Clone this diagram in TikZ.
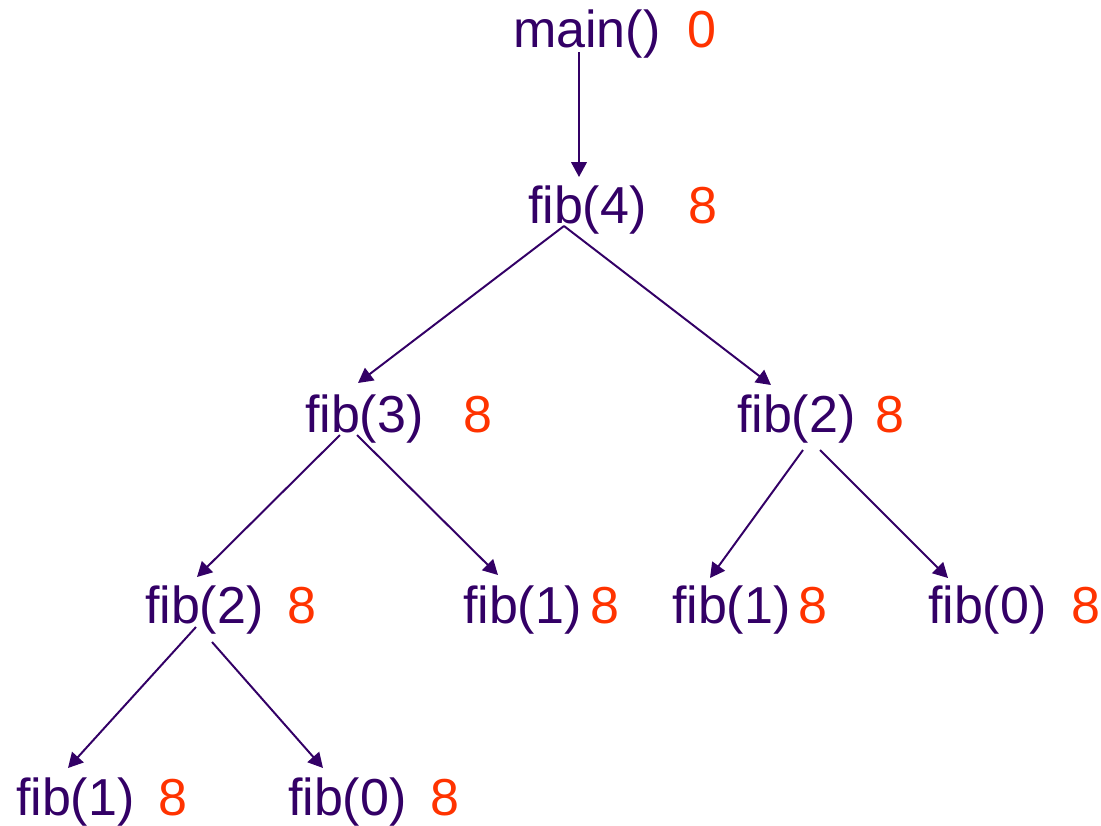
\documentclass[tikz,border=0pt]{standalone}
\usepackage{fontspec}
\setmainfont{Liberation Sans}
\usepackage{tikz}
\usetikzlibrary{arrows.meta}
\definecolor{CallPurple}{RGB}{51,0,102}
\definecolor{ValRed}{RGB}{255,51,0}

\begin{document}
\begin{tikzpicture}[x=0.025cm, y=-0.025cm,
    call/.style={font=\fontsize{37}{44}\selectfont, text=CallPurple, anchor=base west, inner sep=0pt, outer sep=0pt},
    val/.style={font=\fontsize{37}{44}\selectfont, text=ValRed, anchor=base west, inner sep=0pt, outer sep=0pt},
    link/.style={draw=CallPurple, line width=1.4pt, -{Triangle[length=10.5pt, width=11pt]}}]
            \path[use as bounding box] (0,0) rectangle (1101,825);
            % Top
            \node[call] (M) at (513,47) {main()};
            \node[val] (M0) at (687,47) {0};
            \node[call] (F4) at (528,223) {fib(4)};
            \node[val] (F4v) at (688,223) {8};
            \draw[link] ([shift={(66,5)}]M.base west) -- ([shift={(51,-46)}]F4.base west);
            
            % Second level
            \node[call] (F3) at (305,432) {fib(3)};
            \node[val] (F3v) at (463,432) {8};
            \node[call] (F2R) at (737,432) {fib(2)};
            \node[val] (F2Rv) at (875,432) {8};
            \draw[link] ([shift={(36,3)}]F4.base west) -- ([shift={(53,-49)}]F3.base west);
            \draw[link] ([shift={(36,3)}]F4.base west) -- ([shift={(34,-47)}]F2R.base west);
            
            % Third level
            \node[call] (F2L) at (145,623) {fib(2)};
            \node[val] (F2Lv) at (287,623) {8};
            \node[call] (F1M) at (463,623) {fib(1)};
            \node[val] (F1Mv) at (590,623) {8};
            \node[call] (F1R) at (672,623) {fib(1)};
            \node[val] (F1Rv) at (798,623) {8};
            \node[call] (F0R) at (928,623) {fib(0)};
            \node[val] (F0Rv) at (1071,623) {8};
            \draw[link] ([shift={(35,3)}]F3.base west) -- ([shift={(52,-46)}]F2L.base west);
            \draw[link] ([shift={(52,3)}]F3.base west) -- ([shift={(35,-48)}]F1M.base west);
            \draw[link] ([shift={(66,18)}]F2R.base west) -- ([shift={(38,-45)}]F1R.base west);
            \draw[link] ([shift={(83,18)}]F2R.base west) -- ([shift={(20,-45)}]F0R.base west);
            
            % Bottom level
            \node[call] (F1B) at (16,815) {fib(1)};
            \node[val] (F1Bv) at (158,815) {8};
            \node[call] (F0B) at (288,815) {fib(0)};
            \node[val] (F0Bv) at (430,815) {8};
            \draw[link] ([shift={(51,4)}]F2L.base west) -- ([shift={(52,-47)}]F1B.base west);
            \draw[link] ([shift={(67,19)}]F2L.base west) -- ([shift={(35,-47)}]F0B.base west);
        \end{tikzpicture}
\end{document}
